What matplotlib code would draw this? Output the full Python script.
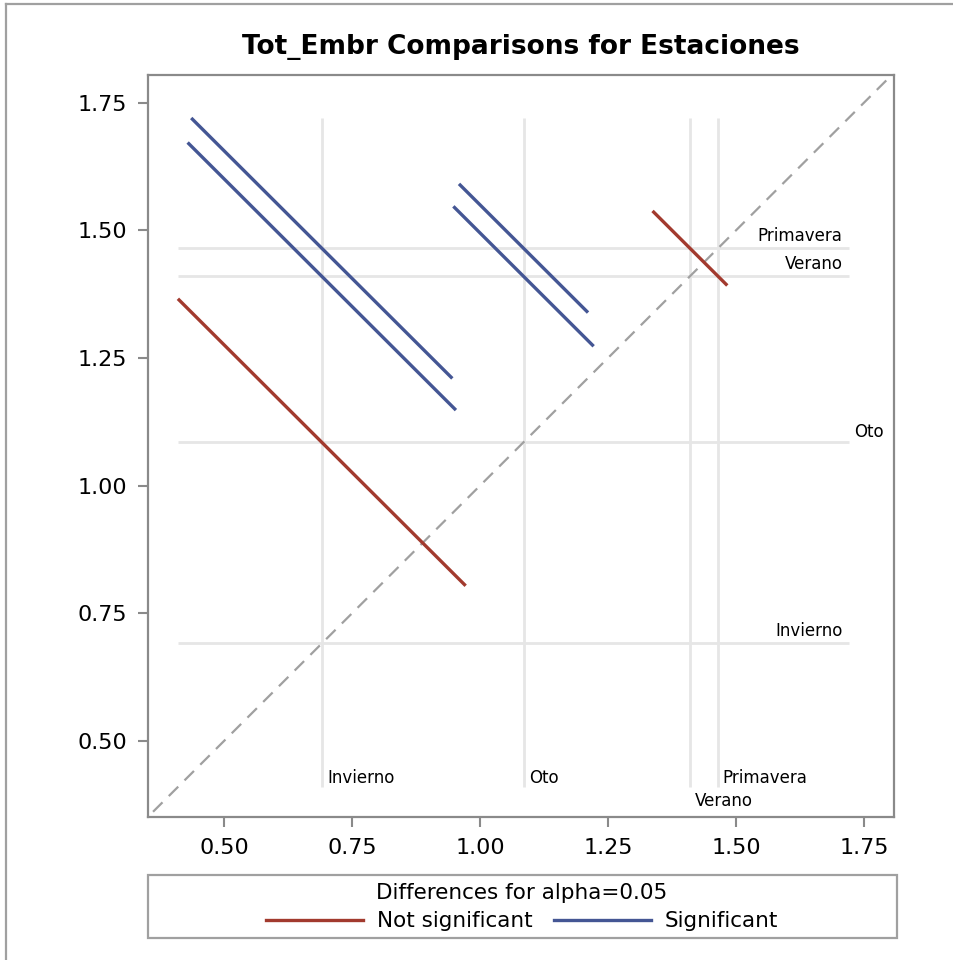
import numpy as np
import matplotlib.pyplot as plt
from matplotlib.lines import Line2D
from matplotlib.patches import Rectangle

# %%
# LS-means of Tot_Embr per season
levels = ['Invierno', 'Oto', 'Verano', 'Primavera']
means = [0.691, 1.085, 1.410, 1.465]

# pairwise comparisons: level on x, level on y, half length of the segment
pair_x = [0, 0, 0, 1, 1, 2]
pair_y = [1, 2, 3, 2, 3, 3]
half_width = [0.281, 0.262, 0.255, 0.137, 0.126, 0.073]
significant = [False, True, True, True, True, False]

ticks = [0.50, 0.75, 1.00, 1.25, 1.50, 1.75]

RED = '#a23a2e'
BLUE = '#445694'
REF = '#e6e6e6'
AXC = '#8a8a8a'

# %%
W, H = 954, 960
fig = plt.figure(figsize=(W / 100, H / 100), dpi=100)
ax = fig.add_axes([148 / W, 1 - 817 / H, (894 - 148) / W, (817 - 75) / H])

x0 = [means[i] - h for i, h in zip(pair_x, half_width)]
x1 = [means[i] + h for i, h in zip(pair_x, half_width)]
y0 = [means[j] + h for j, h in zip(pair_y, half_width)]
y1 = [means[j] - h for j, h in zip(pair_y, half_width)]
lo = min(x0 + y1)
hi = max(x1 + y0)

# reference lines at each mean
for m in means:
    ax.plot([m, m], [lo, hi], color=REF, lw=2, zorder=1, solid_capstyle='butt')
    ax.plot([lo, hi], [m, m], color=REF, lw=2, zorder=1, solid_capstyle='butt')

ax.set_xlim(0.3516, 1.8086)
ax.set_ylim(0.3512, 1.8042)
ax.plot([0.3, 1.9], [0.3, 1.9], color='#a0a0a0', lw=1.6, ls=(0, (6, 4)), zorder=2)

for k in range(len(pair_x)):
    c = BLUE if significant[k] else RED
    ax.plot([x0[k], x1[k]], [y0[k], y1[k]], color=c, lw=2.4, zorder=3,
            solid_capstyle='butt')

# labels on the reference lines
fs_lab = 12
bottom_off = {'Invierno': (6, 4), 'Oto': (6, 4), 'Verano': (5, -19), 'Primavera': (4, 4)}
for name, m in zip(levels, means):
    ax.annotate(name, (m, lo), xytext=bottom_off[name], textcoords='offset pixels',
                ha='left', va='baseline', fontsize=fs_lab)
    if name == 'Oto':
        ax.annotate(name, (hi, m), xytext=(5, 5), textcoords='offset pixels',
                    ha='left', va='baseline', fontsize=fs_lab, annotation_clip=False)
    else:
        ax.annotate(name, (hi, m), xytext=(-6, 7), textcoords='offset pixels',
                    ha='right', va='baseline', fontsize=fs_lab)

ax.set_xticks(ticks)
ax.set_yticks(ticks)
ax.set_xticklabels(['%.2f' % t for t in ticks])
ax.set_yticklabels(['%.2f' % t for t in ticks])
ax.tick_params(length=7, width=1.5, color=AXC, labelsize=16, pad=8)
for s in ax.spines.values():
    s.set_color(AXC)
    s.set_linewidth(1.6)

fig.text((148 + 894) / 2 / W, 1 - 54 / H, 'Tot_Embr Comparisons for Estaciones',
         ha='center', va='baseline', fontsize=19, fontweight='bold')

# legend
fig.patches.append(Rectangle((148 / W, 1 - 938 / H), (897 - 148) / W, (938 - 875) / H,
                             transform=fig.transFigure, fill=False,
                             edgecolor='#a0a0a0', lw=1.6))
handles = [Line2D([], [], color=RED, lw=2.4), Line2D([], [], color=BLUE, lw=2.4)]
leg = fig.legend(handles, ['Not significant', 'Significant'], loc='center',
                 bbox_to_anchor=(522 / W, 1 - 907 / H), ncol=2, frameon=False,
                 title='Differences for alpha=0.05', fontsize=15.5, title_fontsize=15.5,
                 handlelength=4.5, handletextpad=0.65, columnspacing=1.0,
                 borderpad=0, labelspacing=0.2)
leg._legend_box.sep = 6

# outer frame (only left and top edges fall inside the image)
fig.add_artist(Line2D([6.5 / W, 6.5 / W], [0, 1 - 4 / H], transform=fig.transFigure,
                      color='#a0a0a0', lw=1.6))
fig.add_artist(Line2D([6.5 / W, 1], [1 - 4 / H, 1 - 4 / H], transform=fig.transFigure,
                      color='#a0a0a0', lw=1.6))

fig.savefig('out.png', dpi=100)
